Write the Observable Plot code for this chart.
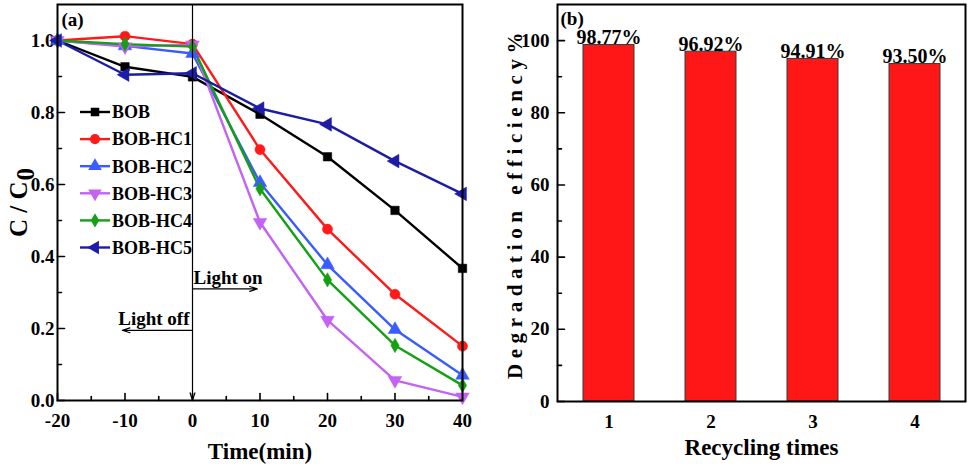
<!DOCTYPE html>
<html>
<head>
<meta charset="utf-8">
<script src="https://cdn.jsdelivr.net/npm/d3@7"></script>
<script src="https://cdn.jsdelivr.net/npm/@observablehq/plot@0.6"></script>
<style>
  html, body { margin: 0; padding: 0; background: white; }
  #wrap { position: relative; width: 969px; height: 472px; overflow: hidden; }
  #left, #right, #legend { position: absolute; top: 0; }
  #left { left: 0; }
  #right { left: 480px; }
  #legend { left: 0; pointer-events: none; }
  #right g[aria-label="y-axis label"] text { letter-spacing: 5.6px; }
</style>
</head>
<body>
<div id="wrap">
  <div id="left"></div>
  <div id="right"></div>
  <svg id="legend" width="480" height="472"></svg>
</div>
<script>
// ---------- data: panel (a) ----------
const times = [-20, -10, 0, 10, 20, 30, 40];
const seriesNames = ["BOB", "BOB-HC1", "BOB-HC2", "BOB-HC3", "BOB-HC4", "BOB-HC5"];
const BOB    = [1.000, 0.927, 0.899, 0.795, 0.677, 0.528, 0.367];
const BOB_HC1 = [1.000, 1.012, 0.990, 0.697, 0.476, 0.295, 0.151];
const BOB_HC2 = [1.000, 0.985, 0.964, 0.605, 0.377, 0.197, 0.070];
const BOB_HC3 = [1.000, 0.983, 0.988, 0.495, 0.223, 0.056, 0.010];
const BOB_HC4 = [1.000, 0.990, 0.983, 0.588, 0.335, 0.153, 0.042];
const BOB_HC5 = [1.000, 0.905, 0.909, 0.811, 0.767, 0.665, 0.574];
const seriesValues = [BOB, BOB_HC1, BOB_HC2, BOB_HC3, BOB_HC4, BOB_HC5];
const xTicksA = [-20, -10, 0, 10, 20, 30, 40];
const xMinorA = [-15, -5, 5, 15, 25, 35];
const yTicksA = [0, 0.2, 0.4, 0.6, 0.8, 1.0];
const yMinorA = [0.1, 0.3, 0.5, 0.7, 0.9];
const lightOn = {x1: 0, x2: 9.6, y: 0.31, label: "Light on"};
const lightOff = {x1: 0, x2: -10.4, y: 0.195, label: "Light off"};

// ---------- data: panel (b) ----------
const cycles = [1, 2, 3, 4];
const efficiency = [98.77, 96.92, 94.91, 93.50];
const yTicksB = [0, 20, 40, 60, 80, 100];
const yMinorB = [10, 30, 50, 70, 90];

// ---------- styles ----------
const seriesColors = ["#000000", "#ff1a1a", "#3a5cff", "#c462f2", "#14a014", "#1c1ca6"];
const FONT = "'Liberation Serif', 'Times New Roman', serif";

const sqrt3 = Math.sqrt(3);
const triDown = {draw(ctx, size) { const y = -Math.sqrt(size / (sqrt3 * 3)); ctx.moveTo(0, -2 * y); ctx.lineTo(-sqrt3 * y, y); ctx.lineTo(sqrt3 * y, y); ctx.closePath(); }};
const triLeft = {draw(ctx, size) { const y = -Math.sqrt(size / (sqrt3 * 3)); ctx.moveTo(2 * y, 0); ctx.lineTo(-y, sqrt3 * y); ctx.lineTo(-y, -sqrt3 * y); ctx.closePath(); }};
const triUp = {draw(ctx, size) { const y = -Math.sqrt(size / (sqrt3 * 3)); ctx.moveTo(0, 2 * y); ctx.lineTo(-sqrt3 * y, -y); ctx.lineTo(sqrt3 * y, -y); ctx.closePath(); }};
const seriesSymbols = [d3.symbolSquare, d3.symbolCircle, triUp, triDown, d3.symbolDiamond, triLeft];
const seriesSizes = [72, 80, 80, 80, 60, 80];

const tickLine = {draw(ctx, l) { ctx.moveTo(0, 0); ctx.lineTo(0, -l); }};

function insideTicks(values, axis, len) {
  return axis === "y"
    ? Plot.vector(values, {y: d => d, frameAnchor: "left", rotate: 90, length: len, anchor: "start", shape: tickLine, stroke: "black", strokeWidth: 1.6})
    : Plot.vector(values, {x: d => d, frameAnchor: "bottom", rotate: 0, length: len, anchor: "start", shape: tickLine, stroke: "black", strokeWidth: 1.6});
}

// ---------- panel (a) ----------
const rows = [];
seriesNames.forEach((s, i) => times.forEach((t, j) => rows.push({series: s, idx: i, time: t, value: seriesValues[i][j]})));

const marksA = [];
seriesNames.forEach((s, i) => {
  const d = rows.filter(r => r.series === s);
  marksA.push(Plot.line(d, {x: "time", y: "value", stroke: seriesColors[i], strokeWidth: 2.4}));
});
seriesNames.forEach((s, i) => {
  const d = rows.filter(r => r.series === s);
  marksA.push(Plot.dot(d, {x: "time", y: "value", fill: seriesColors[i], stroke: seriesColors[i], strokeWidth: 0.5, symbol: seriesSymbols[i], r: Math.sqrt(seriesSizes[i] / Math.PI)}));
});

const plotA = Plot.plot({
  width: 480, height: 472,
  marginLeft: 57, marginRight: 18, marginTop: 4, marginBottom: 72,
  style: {fontFamily: FONT, fontWeight: "bold", fontSize: "19px", color: "black", background: "white"},
  x: {domain: [-20, 40]},
  y: {domain: [0, 1.1]},
  marks: [
    Plot.axisX({ticks: xTicksA, tickSize: 0, tickPadding: 13, tickFormat: d => String(d), fontSize: 19,
      label: "Time(min)", labelAnchor: "center", labelOffset: 58, labelArrow: "none"}),
    Plot.axisY({ticks: yTicksA, tickSize: 0, tickPadding: 3, tickFormat: d => d.toFixed(1), fontSize: 19,
      label: "C / C0", labelAnchor: "center", labelOffset: 48, labelArrow: "none"}),
    insideTicks(xTicksA, "x", 7),
    insideTicks(xMinorA, "x", 4),
    insideTicks(yTicksA, "y", 7),
    insideTicks(yMinorA, "y", 4),
    ...marksA,
    Plot.arrow([{x1: 0, y1: 1.1, x2: 0, y2: 0}], {x1: "x1", y1: "y1", x2: "x2", y2: "y2", stroke: "black", strokeWidth: 1.2, headLength: 10, headAngle: 35}),
    Plot.arrow([lightOn, lightOff], {x1: "x1", x2: "x2", y1: "y", y2: "y", stroke: "black", strokeWidth: 1.2, headLength: 10, headAngle: 35}),
    Plot.text([lightOn], {x: "x1", y: "y", text: "label", textAnchor: "start", lineAnchor: "bottom", dx: 1, dy: -5, fontSize: 19}),
    Plot.text([lightOff], {x: "x1", y: "y", text: "label", textAnchor: "end", lineAnchor: "bottom", dx: -3, dy: -5, fontSize: 19}),
    Plot.text(["(a)"], {frameAnchor: "top-left", text: d => d, textAnchor: "start", lineAnchor: "top", dx: 4, dy: 8, fontSize: 19}),
    Plot.frame({stroke: "black", strokeWidth: 2})
  ]
});
document.getElementById("left").appendChild(plotA);

// subscript for C/C0
d3.select(plotA).selectAll('g[aria-label="y-axis label"] text').each(function () {
  const t = d3.select(this);
  t.text("C / C");
  t.append("tspan").attr("dy", "0.25em").attr("dx", "1").text("0");
}).attr("font-size", 25);
d3.select(plotA).selectAll('g[aria-label="x-axis label"] text').attr("font-size", 23);

// legend for panel (a)
const leg = d3.select("#legend");
const legendRowY = 112, legendStep = 27.1;
seriesNames.forEach((s, i) => {
  const y = legendRowY + i * legendStep;
  leg.append("line").attr("x1", 80).attr("x2", 110).attr("y1", y).attr("y2", y)
    .attr("stroke", seriesColors[i]).attr("stroke-width", 2.4);
  leg.append("path").attr("d", d3.symbol(seriesSymbols[i], seriesSizes[i])())
    .attr("transform", `translate(95,${y})`).attr("fill", seriesColors[i]);
  leg.append("text").attr("x", 112).attr("y", y).attr("dy", "0.35em")
    .attr("font-family", FONT).attr("font-weight", "bold").attr("font-size", 18).text(s);
});

// ---------- panel (b) ----------
const bars = cycles.map((c, i) => ({cycle: c, eff: efficiency[i]}));
const plotB = Plot.plot({
  width: 489, height: 472,
  marginLeft: 77, marginRight: 4, marginTop: 4, marginBottom: 71,
  style: {fontFamily: FONT, fontWeight: "bold", fontSize: "19px", color: "black", background: "white"},
  x: {type: "band", domain: cycles, paddingInner: 0.5, paddingOuter: 0.25},
  y: {domain: [0, 110]},
  marks: [
    Plot.barY(bars, {x: "cycle", y: "eff", fill: "#ff1616", stroke: "#2f3f3f", strokeWidth: 1}),
    Plot.text(bars, {x: "cycle", y: "eff", text: d => d.eff.toFixed(2) + "%", lineAnchor: "bottom", dy: -1, fontSize: 20}),
    Plot.axisX({tickSize: 0, tickPadding: 13, fontSize: 19,
      label: "Recycling times", labelAnchor: "center", labelOffset: 53, labelArrow: "none"}),
    Plot.axisY({ticks: yTicksB, tickSize: 0, tickPadding: 8, tickFormat: d => String(d), fontSize: 19,
      label: "Degradation efficiency%", labelAnchor: "center", labelOffset: 50, labelArrow: "none"}),
    insideTicks(yTicksB, "y", 7),
    insideTicks(yMinorB, "y", 4),
    Plot.text(["(b)"], {frameAnchor: "top-left", text: d => d, textAnchor: "start", lineAnchor: "top", dx: 3, dy: 7, fontSize: 19}),
    Plot.frame({stroke: "black", strokeWidth: 2})
  ]
});
document.getElementById("right").appendChild(plotB);
d3.select(plotB).selectAll('g[aria-label="x-axis label"] text').attr("font-size", 23);
d3.select(plotB).selectAll('g[aria-label="y-axis label"] text').attr("font-size", 21);
</script>
</body>
</html>
